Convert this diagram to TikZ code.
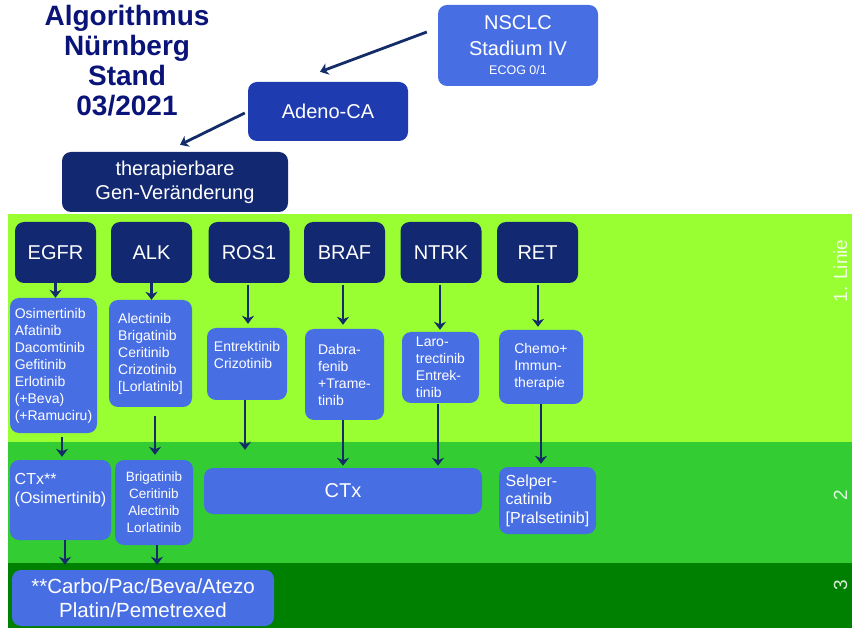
\documentclass[tikz,border=0pt]{standalone}
\usepackage{fontspec}
\setmainfont{Liberation Sans}
\usetikzlibrary{arrows.meta,calc}
\definecolor{lgreen}{RGB}{153,255,51}
\definecolor{mgreen}{RGB}{51,204,51}
\definecolor{dgreen}{RGB}{0,128,0}
\definecolor{royal}{RGB}{72,110,228}
\definecolor{adenoc}{RGB}{30,60,175}
\definecolor{navyb}{RGB}{18,40,112}
\definecolor{titlec}{RGB}{10,20,120}
\definecolor{arrowc}{RGB}{20,45,105}
\tikzset{
  box/.style={rounded corners=9pt, text=white, inner sep=2pt, align=center},
  navybox/.style={box, fill=navyb, font=\fontsize{20}{24}\selectfont},
  genebox/.style={navybox, minimum width=81pt, minimum height=61pt},
  drugbox/.style={box, fill=royal, align=left, font=\fontsize{14}{17}\selectfont},
  arr/.style={draw=arrowc, line width=2.8pt, -{Stealth[length=8pt,width=12pt,inset=2.5pt]}},
  sidel/.style={rotate=90, anchor=base, text=white, opacity=0.85, inner sep=0pt, font=\fontsize{19}{22}\selectfont}
}
\begin{document}
\begin{tikzpicture}[x=1pt,y=-1pt]
\useasboundingbox (0,0) rectangle (852,628);
\clip (0,0) rectangle (852,628);
\fill[white] (0,0) rectangle (852,628);
% bands
\fill[lgreen] (8,214) rectangle (852,442);
\fill[mgreen] (8,442) rectangle (852,563);
\fill[dgreen] (8,563) rectangle (852,628);
\node[sidel] (l1) at (847,271) {1. Linie};
\node[sidel] (l2) at (847,495) {2};
\node[sidel] (l3) at (847,585) {3};
% title
\node[font=\bfseries\fontsize{28}{30}\selectfont, text=titlec, align=center, inner sep=0pt] (title) at (127,61) {Algorithmus\\Nürnberg\\Stand\\03/2021};
% top boxes
\node[box, fill=royal, minimum width=160pt, minimum height=81pt, font=\fontsize{20}{26}\selectfont] (nsclc) at (518,45.5) {NSCLC\\Stadium IV\\[-7pt]{\fontsize{12.5}{15}\selectfont ECOG 0/1}};
\node[box, fill=adenoc, minimum width=160pt, minimum height=59pt, font=\fontsize{20}{24}\selectfont] (adeno) at (328,111.5) {Adeno-CA};
\node[navybox, minimum width=226pt, minimum height=60pt] (gen) at (175,182) {therapierbare\\Gen-Veränderung};
% gene boxes
\node[genebox] (egfr) at (55.5,252.5) {EGFR};
\node[genebox] (alk) at (151.5,252.5) {ALK};
\node[genebox] (ros) at (249,252.5) {ROS1};
\node[genebox] (braf) at (344.5,252.5) {BRAF};
\node[genebox] (ntrk) at (441,252.5) {NTRK};
\node[genebox] (ret) at (537.5,252.5) {RET};
% first line drugs
\node[drugbox, minimum width=87pt, minimum height=135pt] (egfrD) at (53.5,365.5) {Osimertinib\\Afatinib\\Dacomtinib\\Gefitinib\\Erlotinib\\(+Beva)\\(+Ramuciru)};
\node[drugbox, minimum width=83pt, minimum height=107pt] (alkD) at (150.5,353.5) {Alectinib\\Brigatinib\\Ceritinib\\Crizotinib\\{[Lorlatinib]}};
\node[drugbox, minimum width=80pt, minimum height=72pt, text depth=19pt] (rosD) at (247,364) {Entrektinib\\Crizotinib};
\node[drugbox, minimum width=79pt, minimum height=91pt] (brafD) at (344.5,374.5) {Dabra-\\fenib\\+Trame-\\tinib};
\node[drugbox, minimum width=77pt, minimum height=71pt] (ntrkD) at (440.5,367.5) {Laro-\\trectinib\\Entrek-\\tinib};
\node[drugbox, minimum width=84pt, minimum height=74pt] (retD) at (541,367) {Chemo+\\Immun-\\therapie};
% second line
\node[drugbox, minimum width=101pt, minimum height=80pt, text depth=24pt, font=\fontsize{16}{19}\selectfont] (ctxs) at (60.5,500) {CTx**\\(Osimertinib)};
\node[drugbox, align=center, minimum width=78pt, minimum height=85pt, font=\fontsize{13.5}{17}\selectfont] (alk2) at (154,502.5) {Brigatinib\\Ceritinib\\Alectinib\\Lorlatinib};
\node[drugbox, align=center, minimum width=278pt, minimum height=46pt, font=\fontsize{20}{24}\selectfont] (ctx) at (343,491) {CTx};
\node[drugbox, minimum width=97pt, minimum height=67pt, font=\fontsize{16}{18.5}\selectfont] (ret2) at (547.5,500.5) {Selper-\\catinib\\{[Pralsetinib]}};
% third line
\node[drugbox, align=center, minimum width=262pt, minimum height=56pt, font=\fontsize{20.5}{24}\selectfont] (third) at (143,598) {**Carbo/Pac/Beva/Atezo\\Platin/Pemetrexed};
% top arrows
\draw[arr] ($(nsclc.west)+(-11,-13.5)$) -- ($(adeno.north)+(-8,-10)$);
\draw[arr] ($(adeno.west)+(-3,1.5)$) -- ($(gen.north)+(5,-7)$);
% gene to first-line arrows
\draw[arr] (egfr.south) -- (egfr.south |- egfrD.north);
\draw[arr] (alk.south) -- (alk.south |- alkD.north);
\draw[arr] ($(ros.south)+(-1,1.5)$) -- ($(ros.south |- rosD.north)+(-1,-4)$);
\draw[arr] ($(braf.south)+(-1.5,1.5)$) -- ($(braf.south |- brafD.north)+(-1.5,-4)$);
\draw[arr] ($(ntrk.south)+(-1,1.5)$) -- ($(ntrk.south |- ntrkD.north)+(-1,-2)$);
\draw[arr] ($(ret.south)+(0.5,1.5)$) -- ($(ret.south |- retD.north)+(0.5,-3)$);
% first to second line arrows
\draw[arr] ($(egfrD.south)+(8.5,4)$) -- ($(egfrD.south |- ctxs.north)+(8.5,-3)$);
\draw[arr] ($(alkD.south)+(4.5,9)$) -- ($(alkD.south |- alk2.north)+(4.5,-5)$);
\draw[arr] ($(rosD.south)+(-2,0)$) -- ($(rosD.south |- ctx.north)+(-2,-18)$);
\draw[arr] ($(brafD.south)+(-1.5,0)$) -- ($(brafD.south |- ctx.north)+(-1.5,-2)$);
\draw[arr] ($(ntrkD.south)+(-2.5,1)$) -- ($(ntrkD.south |- ctx.north)+(-2.5,-2)$);
\draw[arr] (retD.south) -- ($(retD.south |- ret2.north)+(0,-3)$);
% second to third line arrows
\draw[arr] ($(ctxs.south)+(4.5,0)$) -- ($(ctxs.south |- third.north)+(4.5,-5)$);
\draw[arr] ($(alk2.south)+(3,0)$) -- ($(alk2.south |- third.north)+(3,-5)$);
\end{tikzpicture}
\end{document}
